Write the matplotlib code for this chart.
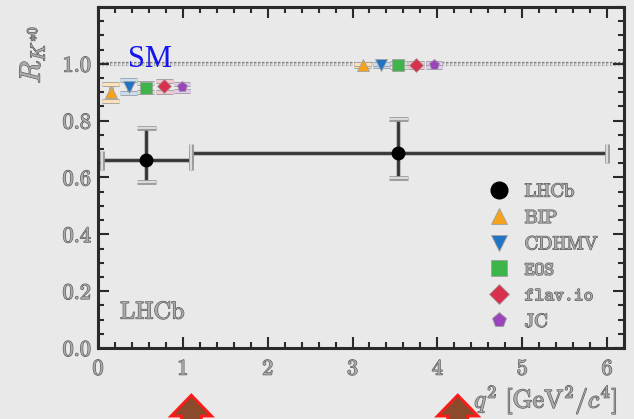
import matplotlib
matplotlib.use("Agg")
import matplotlib.pyplot as plt
import matplotlib.patheffects as pe
import matplotlib.transforms as mtransforms
from matplotlib.patches import Polygon
from matplotlib.ticker import MultipleLocator, FixedLocator
from matplotlib.lines import Line2D

plt.rcParams["font.family"] = "cmr10"
plt.rcParams["mathtext.fontset"] = "cm"
plt.rcParams["axes.unicode_minus"] = False
plt.rcParams["axes.formatter.use_mathtext"] = False

# LHCb measurement in two q^2 bins
lhcb_q2 = [0.57, 3.54]
lhcb_bin_lo = [0.045, 1.1]
lhcb_bin_hi = [1.1, 6.0]
lhcb_R = [0.66, 0.685]
lhcb_err_up = [0.113, 0.122]
lhcb_err_dn = [0.076, 0.087]

# SM predictions
models = ["BIP", "CDHMV", "EOS", "flav.io", "JC"]
model_markers = ["^", "v", "s", "D", "p"]
model_colors = ["#f7a21b", "#2173c4", "#3db54a", "#d8304d", "#9b44bb"]
model_pale = ["#fbe2b8", "#c9ddf2", "#cdeacd", "#f3c8d0", "#e2cbee"]
low_q2 = [0.15, 0.36, 0.56, 0.78, 0.99]
low_R = [0.900, 0.920, 0.916, 0.921, 0.917]
low_err = [0.030, 0.022, 0.016, 0.019, 0.012]
cen_q2 = [3.12, 3.34, 3.54, 3.75, 3.96]
cen_R = [0.996, 0.996, 0.996, 0.996, 0.996]
cen_err = [0.005, 0.005, 0.006, 0.008, 0.006]

y_labels = ["0.0", "0.2", "0.4", "0.6", "0.8", "1.0"]
arrow_q2 = [1.1, 4.24]

bg = "#e9e9e9"
ink = "#2a2a2a"
emboss = [pe.withStroke(linewidth=0.9, foreground="#5a5a5a")]
text_fill = "#ababab"

fig = plt.figure(figsize=(6.34, 4.19), dpi=100, facecolor=bg)
ax = fig.add_axes([98 / 634, 71 / 419, 526 / 634, 341 / 419], facecolor=bg)
ax.set_xlim(0, 6.2)
ax.set_ylim(0, 1.2)

# SM reference line
ax.axhline(1.0, color="#dedede", lw=1.8, ls=(0, (1.0, 0.6)), zorder=1,
           path_effects=[pe.Stroke(linewidth=3.0, foreground="#7c7c7c"), pe.Normal()])
ax.text(0.61, 1.017, "SM", color="#1414f0", fontsize=22,
        family="Liberation Serif", ha="center", va="center", zorder=5)

# theory points
for i, name in enumerate(models):
    for xs, ys, es in ((low_q2, low_R, low_err), (cen_q2, cen_R, cen_err)):
        eb = ax.errorbar([xs[i]], [ys[i]], yerr=[es[i]], fmt="none",
                         ecolor=model_pale[i], elinewidth=2.4, capsize=6,
                         capthick=2.4, zorder=3)
        for c in eb.lines[1]:
            c.set_path_effects([pe.Stroke(linewidth=3.6, foreground="#9c9c9c"), pe.Normal()])
        for b in eb.lines[2]:
            b.set_path_effects([pe.Stroke(linewidth=3.6, foreground="#9c9c9c"), pe.Normal()])
        ax.plot([xs[i]], [ys[i]], marker=model_markers[i], ms=8 if model_markers[i] != "D" else 7,
                color=model_colors[i], mec="#a0a0a0", mew=0.6, ls="none", zorder=4)

# LHCb points
xerr = [[q - lo for q, lo in zip(lhcb_q2, lhcb_bin_lo)],
        [hi - q for q, hi in zip(lhcb_q2, lhcb_bin_hi)]]
eb = ax.errorbar(lhcb_q2, lhcb_R, xerr=xerr, yerr=[lhcb_err_dn, lhcb_err_up],
                 fmt="o", color="black", ms=9, ecolor="#333333", elinewidth=2,
                 capsize=7, capthick=1.6, zorder=6)
for c in eb.lines[1]:
    c.set_markeredgecolor("#dadada")
    c.set_path_effects([pe.Stroke(linewidth=3.4, foreground="#959595"), pe.Normal()])
for b in eb.lines[2]:
    b.set_path_effects([pe.Stroke(linewidth=3.4, foreground="#b4b4b4"), pe.Normal()])

ax.text(0.26, 0.125, "LHCb", fontsize=17.5, color=text_fill, path_effects=emboss,
        ha="left", va="center")

# axes styling
for s in ax.spines.values():
    s.set_linewidth(2.2)
    s.set_color(ink)
ax.xaxis.set_major_locator(MultipleLocator(1))
ax.xaxis.set_minor_locator(MultipleLocator(0.2))
ax.yaxis.set_major_locator(MultipleLocator(0.2))
ax.yaxis.set_minor_locator(MultipleLocator(0.05))
ax.tick_params(which="both", direction="in", top=True, right=True, color=ink, width=1.5)
ax.tick_params(which="major", length=8)
ax.tick_params(which="minor", length=4.5)
ax.tick_params(axis="x", which="major", pad=8, labelsize=16)
ax.tick_params(axis="y", which="major", pad=5, labelsize=16)
ax.set_yticks([float(v) for v in y_labels] + [1.2])
ax.set_yticklabels(y_labels + [""])
for t in ax.get_xticklabels() + ax.get_yticklabels():
    t.set_color(text_fill)
    t.set_path_effects(emboss)

ax.text(-0.125, 0.86, r"$R_{K^{*0}}$", transform=ax.transAxes, rotation=90,
        fontsize=21, color=text_fill, path_effects=emboss, ha="center", va="center")
ax.text(0.987, -0.152, r"$q^2\ [\mathrm{GeV}^2/c^4]$", transform=ax.transAxes,
        fontsize=18.5, color=text_fill, path_effects=emboss, ha="right", va="center")

# legend
handles = [Line2D([], [], marker="o", color="black", ls="none", ms=12)]
for m, c in zip(model_markers, model_colors):
    handles.append(Line2D([], [], marker=m, color=c, mec="#a0a0a0", mew=0.6,
                          ls="none", ms=11 if m != "D" else 10))
leg = ax.legend(handles, ["LHCb"] + models, loc="upper left",
                bbox_to_anchor=(0.745, 0.485), frameon=False, fontsize=13.5,
                handlelength=1.0, handletextpad=0.85, labelspacing=0.45,
                borderpad=0, borderaxespad=0)
for t, name in zip(leg.get_texts(), ["LHCb"] + models):
    t.set_color(text_fill)
    t.set_path_effects(emboss)
    if name in ("EOS", "flav.io"):
        t.set_fontfamily("cmtt10")

# arrows under the axis
blend = mtransforms.blended_transform_factory(ax.transData, fig.transFigure)
for xa in arrow_q2:
    hw, sw = 0.24, 0.118
    tip, base, bottom = 0.057, 0.007, -0.05
    pts = [(xa, tip), (xa + hw, base), (xa + sw, base), (xa + sw, bottom),
           (xa - sw, bottom), (xa - sw, base), (xa - hw, base)]
    fig.patches.append(Polygon(pts, closed=True, transform=blend, facecolor="#8b4a2b",
                               edgecolor="#ff1a1a", lw=2, clip_on=False, zorder=10))

fig.savefig("out.png", dpi=100, facecolor=bg)
